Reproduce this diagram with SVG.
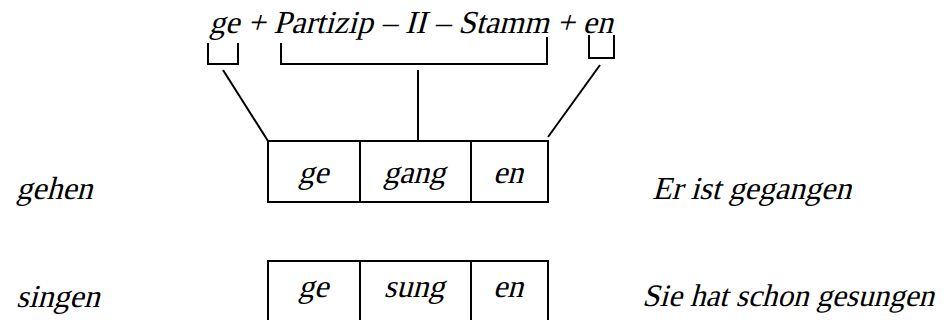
<svg xmlns="http://www.w3.org/2000/svg" width="947" height="320" viewBox="0 0 947 320">
<style>
text{font-family:'Liberation Serif','Times New Roman',serif;font-style:normal;font-size:32px;fill:#000}
.c{text-anchor:middle}
.ln{fill:none;stroke:#000;stroke-width:2}
</style>
<rect width="947" height="320" fill="#fff"/>
<g id="formula"><text transform="translate(209,33) skewX(-15)">ge + Partizip – II – Stamm + en</text></g>
<g id="connectors" class="ln">
<polyline points="208,43 208,64 238,64 238,43"/>
<polyline points="281,43 281,64 547,64 547,37"/>
<polyline points="589,35 589,58 614,58 614,35"/>
<line x1="418" y1="70" x2="418" y2="141"/>
<line x1="223" y1="70" x2="268" y2="141"/>
<line x1="600" y1="65" x2="548" y2="137"/>
</g>
<g id="gehen"><text transform="translate(16,199) skewX(-15)">gehen</text></g>
<g id="box1">
<rect class="ln" x="268" y="141" width="280" height="61"/>
<line class="ln" x1="360" y1="141" x2="360" y2="202"/>
<line class="ln" x1="471" y1="141" x2="471" y2="202"/>
<text class="c" transform="translate(313,183) skewX(-15)">ge</text>
<text class="c" transform="translate(414,183) skewX(-15)">gang</text>
<text class="c" transform="translate(508,183) skewX(-15)">en</text>
</g>
<g id="ex1"><text transform="translate(652,199) skewX(-15)">Er ist gegangen</text></g>
<g id="singen"><text transform="translate(16,307) skewX(-15)">singen</text></g>
<g id="box2">
<rect class="ln" x="268" y="261" width="280" height="62"/>
<line class="ln" x1="360" y1="261" x2="360" y2="323"/>
<line class="ln" x1="471" y1="261" x2="471" y2="323"/>
<text class="c" transform="translate(313,297) skewX(-15)">ge</text>
<text class="c" transform="translate(414,297) skewX(-15)">sung</text>
<text class="c" transform="translate(508,297) skewX(-15)">en</text>
</g>
<g id="ex2"><text transform="translate(642,306) skewX(-15)" style="font-size:31.2px">Sie hat schon gesungen</text></g>
</svg>
